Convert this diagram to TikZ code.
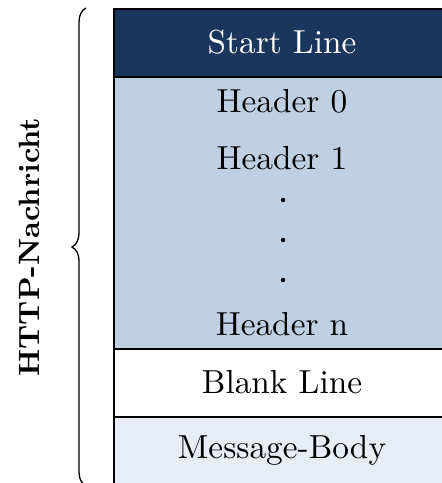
\documentclass[tikz,border=0pt]{standalone}
\usetikzlibrary{decorations.pathreplacing}

\definecolor{navy}{RGB}{27,54,93}
\definecolor{headblue}{RGB}{191,208,226}
\definecolor{bodyblue}{RGB}{232,237,245}

\tikzset{
  cell/.style={draw=black, line width=0.6pt, rectangle, inner sep=0pt,
    minimum width=101.55pt, anchor=north west},
  celltext/.style={anchor=base, inner sep=0pt, font=\fontsize{10}{12}\selectfont},
  dotmark/.style={circle, fill=black, inner sep=0pt, minimum size=1.3pt},
}

\begin{document}
\begin{tikzpicture}[x=0.3pt, y=-0.3pt]
  \useasboundingbox (0,0) rectangle (441,483);

  % stacked message parts
  \node[cell, fill=navy, minimum height=20.4pt] (start) at (112.5,8) {};
  \node[cell, fill=headblue, minimum height=81.6pt] (headers) at (112.5,76) {};
  \node[cell, fill=white, minimum height=20.4pt] (blank) at (112.5,348) {};
  \node[cell, fill=bodyblue, minimum height=20.4pt] (body) at (112.5,416) {};

  % labels inside the parts
  \node[celltext, text=white] (tstart) at (282,53) {Start Line};
  \node[celltext] (th0) at (282,112) {Header 0};
  \node[celltext] (th1) at (282,169) {Header 1};
  \node[dotmark] (d1) at (283,200) {};
  \node[dotmark] (d2) at (283,240) {};
  \node[dotmark] (d3) at (283,280) {};
  \node[celltext] (thn) at (282,335) {Header n};
  \node[celltext] (tblank) at (282,393) {Blank Line};
  \node[celltext] (tbody) at (282,458) {Message-Body};

  % brace spanning the whole message
  \coordinate (bracebot) at (86,486);
  \coordinate (bracetop) at (86,8);
  \draw[line width=0.4pt, decorate, decoration={brace, amplitude=4.2pt}]
    (bracebot) -- (bracetop);

  \node[rotate=90, anchor=base, inner sep=0pt,
        font=\fontsize{8.8}{10}\selectfont\bfseries] (title) at (40,247) {HTTP-Nachricht};
\end{tikzpicture}
\end{document}
